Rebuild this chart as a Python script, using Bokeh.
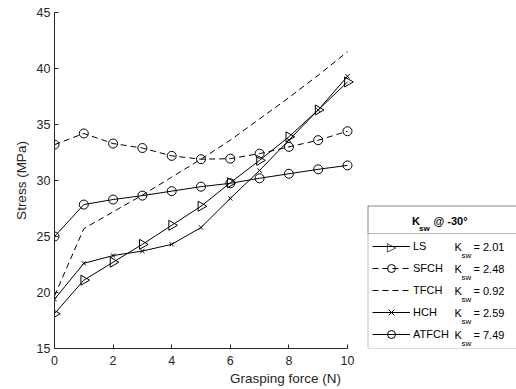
import numpy as np
from bokeh.plotting import figure
from bokeh.models import (Range1d, FixedTicker, Legend, LegendItem, BoxAnnotation, Label)
from bokeh.embed import file_html
from bokeh.resources import INLINE

# ---------------- data ----------------
force = [0, 1, 2, 3, 4, 5, 6, 7, 8, 9, 10]
LS    = [18.1, 21.1, 22.7, 24.3, 26.0, 27.7, 29.8, 31.8, 33.9, 36.3, 38.8]
SFCH  = [33.2, 34.2, 33.3, 32.9, 32.2, 31.9, 31.95, 32.4, 33.0, 33.6, 34.4]
TFCH  = [19.7, 25.7, 27.2, 28.7, 30.3, 31.9, 33.6, 35.5, 37.4, 39.4, 41.5]
HCH   = [19.4, 22.6, 23.3, 23.7, 24.3, 25.8, 28.4, 30.9, 33.6, 36.3, 39.3]
ATFCH = [25.0, 27.85, 28.3, 28.65, 29.05, 29.45, 29.75, 30.2, 30.6, 31.0, 31.35]
series_names = ["LS", "SFCH", "TFCH", "HCH", "ATFCH"]
ksw = [2.01, 2.48, 0.92, 2.59, 7.49]
x_ticks = [0, 2, 4, 6, 8, 10]
y_ticks = [15, 20, 25, 30, 35, 40, 45]
legend_title = ("K", "sw", "@ -30°")

# ---------------- geometry ----------------
W, H = 516, 389
BL, BT, BB, BR = 54, 12, 41, 0
FW, FH = W - BL - BR, H - BT - BB
X_END = 10 * FW / 293.0
PAGE_X0, PAGE_Y0 = BL, BT   # page position of frame top-left


def dx(px):
    return (px - PAGE_X0) * X_END / FW


def dy(py):
    return 45 - (py - PAGE_Y0) * 30.0 / FH


AX = "#262626"
FONT = "Liberation Sans"

p = figure(width=W, height=H, output_backend="svg", toolbar_location=None,
           x_range=Range1d(0, X_END), y_range=Range1d(15, 45),
           min_border_left=BL, min_border_right=BR, min_border_top=BT, min_border_bottom=BB)
p.grid.visible = False
p.outline_line_color = None
p.background_fill_color = "white"
p.border_fill_color = "white"

for ax, ticks, bnds in ((p.xaxis[0], x_ticks, (0, 10)), (p.yaxis[0], y_ticks, (15, 45))):
    ax.ticker = FixedTicker(ticks=ticks)
    ax.bounds = bnds
    ax.major_tick_in = 4
    ax.major_tick_out = 0
    ax.minor_tick_line_color = None
    ax.axis_line_color = AX
    ax.major_tick_line_color = AX
    ax.major_label_text_font = FONT
    ax.major_label_text_font_size = "12.5px"
    ax.major_label_text_color = AX
    ax.axis_label_text_font = FONT
    ax.axis_label_text_font_size = "13.5px"
    ax.axis_label_text_font_style = "normal"
    ax.axis_label_text_color = AX

p.xaxis.axis_label = "Grasping force (N)"
p.yaxis.axis_label = "Stress (MPa)"
p.xaxis.major_label_standoff = 7
p.xaxis.axis_label_standoff = 3
p.yaxis.major_label_standoff = 4
p.yaxis.axis_label_standoff = 5

K = "black"
items = []
# LS
l1 = p.line(force, LS, line_color=K, line_width=1)
s1 = p.scatter(force, LS, marker="triangle", angle=-np.pi / 2, size=10,
               fill_color=None, line_color=K, line_width=1)
items.append(LegendItem(label=series_names[0], renderers=[l1]))
# SFCH
l2 = p.line(force, SFCH, line_color=K, line_width=1, line_dash="6 4")
s2 = p.scatter(force, SFCH, marker="circle", size=9, fill_color=None, line_color=K, line_width=1)
items.append(LegendItem(label=series_names[1], renderers=[l2, s2]))
# TFCH
l3 = p.line(force, TFCH, line_color=K, line_width=1, line_dash="6 4")
items.append(LegendItem(label=series_names[2], renderers=[l3]))
# HCH
l4 = p.line(force, HCH, line_color=K, line_width=1)
s4 = p.scatter(force, HCH, marker="x", size=6, line_color=K, line_width=1)
items.append(LegendItem(label=series_names[3], renderers=[l4, s4]))
# ATFCH
l5 = p.line(force, ATFCH, line_color=K, line_width=1)
s5 = p.scatter(force, ATFCH, marker="circle", size=9, fill_color=None, line_color=K, line_width=1)
items.append(LegendItem(label=series_names[4], renderers=[l5, s5]))

# legend box and title separator
p.add_layout(BoxAnnotation(left=dx(367.5), right=dx(700), top=dy(205.5), bottom=dy(348),
                           fill_alpha=0, line_color=AX, line_width=1))
p.add_layout(BoxAnnotation(left=dx(367.5), right=dx(700), top=dy(205.5), bottom=dy(233),
                           fill_alpha=0, line_color=AX, line_width=1))

legend = Legend(items=items, location=(368 - PAGE_X0, 0), padding=4, spacing=2,
                glyph_width=38, glyph_height=20, label_height=20, label_standoff=3,
                label_text_font=FONT, label_text_font_size="11px", label_text_color="black",
                border_line_alpha=0, background_fill_alpha=0, margin=0)
p.add_layout(legend)

# right-pointing triangle for the LS legend sample (legend glyphs ignore marker angle)
p.add_layout(Label(x=dx(391), y=dy(246.5), text="▷", text_align="center", text_baseline="middle",
                   text_font="DejaVu Sans", text_font_size="12px", text_color="black",
                   background_fill_color="white", background_fill_alpha=0))

# K_sw labels per row
row_y = [246, 268, 290, 312, 334]
for yy, v in zip(row_y, ksw):
    p.add_layout(Label(x=dx(454), y=dy(yy), text="K", text_baseline="middle",
                       text_font=FONT, text_font_size="11px", text_color="black"))
    p.add_layout(Label(x=dx(461), y=dy(yy + 8.5), text="sw", text_baseline="middle",
                       text_font=FONT, text_font_size="8px", text_color="black"))
    p.add_layout(Label(x=dx(473), y=dy(yy), text=f"= {v:.2f}", text_baseline="middle",
                       text_font=FONT, text_font_size="11px", text_color="black"))

# legend title
p.add_layout(Label(x=dx(411.5), y=dy(220), text=legend_title[0], text_baseline="middle",
                   text_font=FONT, text_font_size="11px", text_font_style="bold", text_color="black"))
p.add_layout(Label(x=dx(418.5), y=dy(227.5), text=legend_title[1], text_baseline="middle",
                   text_font=FONT, text_font_size="8px", text_font_style="bold", text_color="black"))
p.add_layout(Label(x=dx(433), y=dy(220), text=legend_title[2], text_baseline="middle",
                   text_font=FONT, text_font_size="11px", text_font_style="bold", text_color="black"))

open("out.html", "w").write(file_html(p, INLINE))
